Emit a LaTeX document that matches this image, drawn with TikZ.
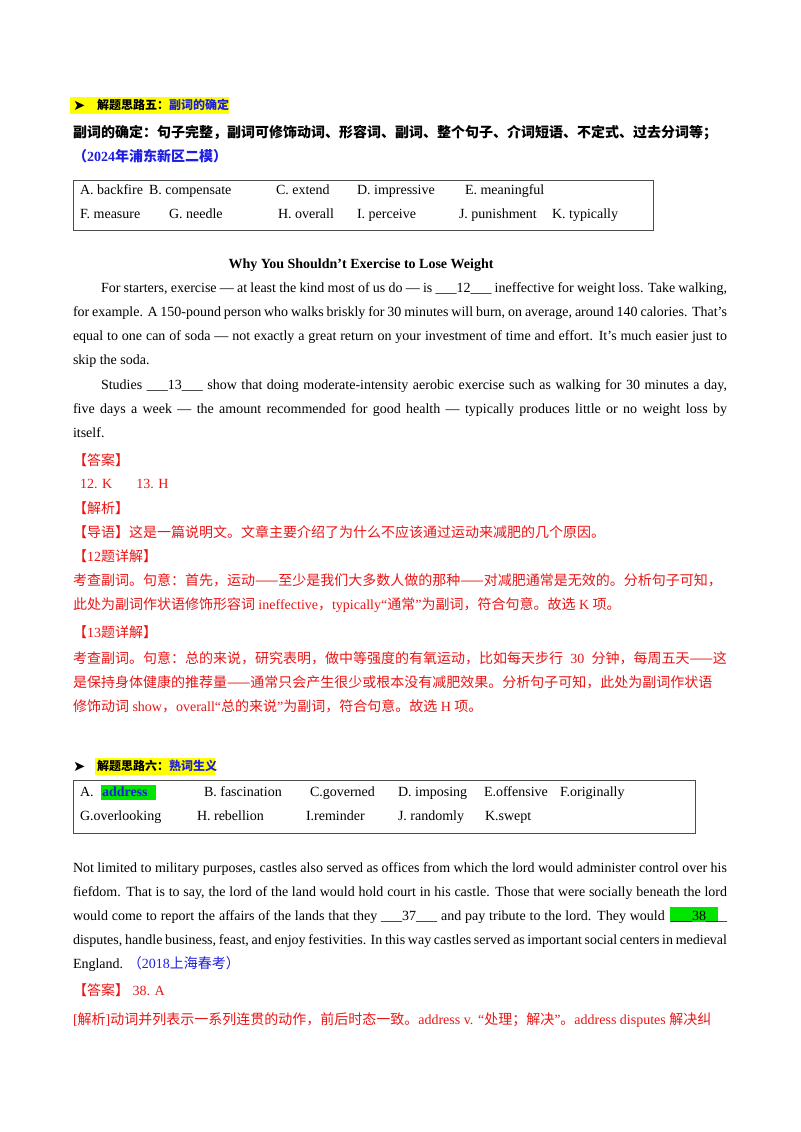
\documentclass[tikz,border=0pt]{standalone}
\usepackage{fontspec}
\setmainfont{Liberation Serif}
\newfontfamily\cjk{Noto Sans CJK SC}
\newfontfamily\dv{DejaVu Sans}
\newcommand\zh[1]{{\cjk #1}}
\definecolor{myred}{RGB}{235,20,20}
\definecolor{myblue}{RGB}{30,30,225}
\definecolor{hlyel}{RGB}{255,255,0}
\definecolor{hlgreen}{RGB}{0,230,0}
\begin{document}
\begin{tikzpicture}[x=0.75pt,y=-0.75pt,
  every node/.style={inner sep=0pt,outer sep=0pt,font=\fontsize{10.5pt}{18pt}\selectfont},
  t/.style={anchor=base west},
  hd/.style={anchor=base west,font=\fontsize{9pt}{12pt}\selectfont\bfseries},
  arw/.style={anchor=base west,font=\fontsize{11pt}{12pt}\selectfont\dv},
  para/.style={anchor=base west,text width=490.5pt,align=justify},
  box/.style={draw=black!70,line width=0.6pt}]
\useasboundingbox (0,0) rectangle (800,1132);
% Section 5
\fill[hlyel] (70,97) rectangle (229,114);
\node[arw] (ar1) at (73,110) {➤};
\node[hd] (h5) at (97,109) {\zh{解题思路五：\textcolor{myblue}{副词的确定}}};
\node[t] (r5) at (73,137) {\bfseries\zh{副词的确定：句子完整，副词可修饰动词、形容词、副词、整个句子、介词短语、不定式、过去分词等；}};
\node[t,text=myblue] (s5) at (73,161) {\bfseries\zh{（}2024\zh{年浦东新区二模）}};
\draw[box] (73,180) rectangle (653,230);
\foreach \x/\y/\s in {80/194/A. backfire,149/194/B. compensate,276/194/C. extend,357/194/D. impressive,465/194/E. meaningful,80/218/F. measure,169/218/G. needle,278/218/H. overall,357/218/I. perceive,459/218/J. punishment,552/218/K. typically}
  \node[t] at (\x,\y) {\s};
\node[anchor=base] (title) at (361,268) {\bfseries Why You Shouldn’t Exercise to Lose Weight};
\node[para] (p1) at (73,292) {\hspace*{21pt}For starters, exercise — at least the kind most of us do — is \_\_\_12\_\_\_ ineffective for weight loss. Take walking,\linebreak
for example. A 150-pound person who walks briskly for 30 minutes will burn, on average, around 140 calories. That’s\linebreak
equal to one can of soda — not exactly a great return on your investment of time and effort. It’s much easier just to\linebreak
skip the soda.};
\node[para] (p2) at (73,389) {\hspace*{21pt}Studies \_\_\_13\_\_\_ show that doing moderate-intensity aerobic exercise such as walking for 30 minutes a day,\linebreak
five days a week — the amount recommended for good health — typically produces little or no weight loss by\linebreak
itself.};
\begin{scope}[every node/.append style={text=myred}]
\node[t] (ans1) at (73,465) {\zh{【答案】}};
\node[t] (ans1b) at (80,488) {12. K\hspace{18pt}13. H};
\node[t] (jx1) at (73,513) {\zh{【解析】}};
\node[t] (dy) at (73,537) {\zh{【导语】这是一篇说明文。文章主要介绍了为什么不应该通过运动来减肥的几个原因。}};
\node[t] (q12) at (73,561) {\zh{【}12\zh{题详解】}};
\node[para] (e12) at (73,585) {\zh{考查副词。句意：首先，运动——至少是我们大多数人做的那种——对减肥通常是无效的。分析句子可知，}\linebreak
\zh{此处为副词作状语修饰形容词} ineffective\zh{，}typically“\zh{通常}”\zh{为副词，符合句意。故选} K \zh{项。}};
\node[t] (q13) at (73,637) {\zh{【}13\zh{题详解】}};
\node[para] (e13) at (73,663) {\zh{考查副词。句意：总的来说，研究表明，做中等强度的有氧运动，比如每天步行} 30 \zh{分钟，每周五天——这}\linebreak
\zh{是保持身体健康的推荐量——通常只会产生很少或根本没有减肥效果。分析句子可知，此处为副词作状语}\linebreak
\zh{修饰动词} show\zh{，}overall“\zh{总的来说}”\zh{为副词，符合句意。故选} H \zh{项。}};
\end{scope}
% Section 6
\fill[hlyel] (95,758) rectangle (215,775);
\node[arw] (ar2) at (73,771) {➤};
\node[hd] (h6) at (97,770) {\zh{解题思路六：\textcolor{myblue}{熟词生义}}};
\draw[box] (73,780) rectangle (695,833);
\fill[hlgreen] (101,785) rectangle (156,800);
\node[t] at (80,796) {A.};
\node[t,text=myblue] at (102,796) {\bfseries address};
\foreach \x/\y/\s in {204/796/B. fascination,310/796/C.governed,398/796/D. imposing,484/796/E.offensive,560/796/F.originally,80/820/G.overlooking,197/820/H. rebellion,306/820/I.reminder,398/820/J. randomly,485/820/K.swept}
  \node[t] at (\x,\y) {\s};
\fill[hlgreen] (670,907) rectangle (718,922);
\node[para] (p3) at (73,872) {Not limited to military purposes, castles also served as offices from which the lord would administer control over his\linebreak
fiefdom. That is to say, the lord of the land would hold court in his castle. Those that were socially beneath the lord\linebreak
would come to report the affairs of the lands that they \_\_\_37\_\_\_ and pay tribute to the lord. They would \,\_\_\_38\_\_\_\linebreak
disputes, handle business, feast, and enjoy festivities. In this way castles served as important social centers in medieval\linebreak
England. \textcolor{myblue}{\zh{（}2018\zh{上海春考）}}};
\begin{scope}[every node/.append style={text=myred}]
\node[t] (ans2) at (73,995) {\zh{【答案】} 38. A};
\node[t] (jx2) at (73,1024) {[\zh{解析}]\zh{动词并列表示一系列连贯的动作，前后时态一致。}address v. “\zh{处理；解决}”\zh{。}address disputes \zh{解决纠}};
\end{scope}
\end{tikzpicture}
\end{document}
